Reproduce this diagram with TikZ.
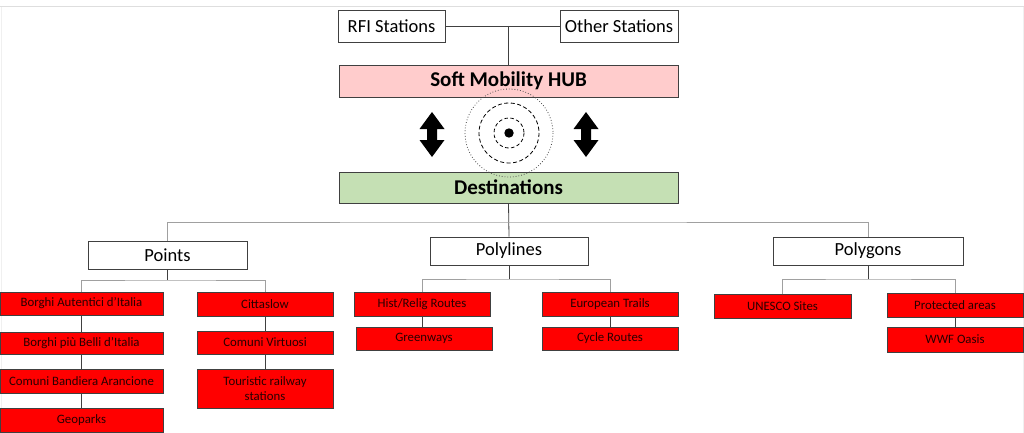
\documentclass[tikz,border=0pt]{standalone}
\usepackage{fontspec}
\setmainfont{Carlito}
\definecolor{hubpink}{RGB}{255,204,204}
\definecolor{destgreen}{RGB}{197,224,180}
\definecolor{boxred}{RGB}{255,0,0}
\definecolor{edge}{RGB}{64,64,64}
\definecolor{redtext}{RGB}{40,0,0}
\definecolor{barline}{RGB}{160,160,160}
\begin{document}
\begin{tikzpicture}[x=1pt,y=-1pt,
  wbox/.style={draw=edge, line width=0.8pt, fill=white, inner sep=0pt, font=\fontsize{18.5}{21}\selectfont},
  mainbox/.style={draw=edge, line width=0.8pt, inner sep=0pt, font=\fontsize{21}{24}\selectfont\bfseries},
  redbox/.style={draw=edge, line width=0.8pt, fill=boxred, inner sep=0pt, text=redtext, align=center, font=\fontsize{12.8}{15.5}\selectfont},
  link/.style={draw=edge, line width=0.8pt},
  barlink/.style={draw=barline, line width=0.9pt},
  bigarrow/.style={fill=black}
]
\useasboundingbox (0,0) rectangle (1024,433);
\fill[white] (0,0) rectangle (1024,433);
% faint screenshot frame
\draw[black!13, line width=1.6pt] (0,6.5) -- (1024,6.5);
\draw[black!6, line width=0.8pt] (1,7) -- (1,433);
\draw[black!6, line width=0.8pt] (1023,7) -- (1023,433);

% top
\node[wbox, minimum width=107pt, minimum height=32pt] (rfi) at (391.5,26) {RFI Stations};
\node[wbox, minimum width=118pt, minimum height=32pt] (other) at (619,26) {Other Stations};
\node[mainbox, fill=hubpink, minimum width=339pt, minimum height=32pt] (hub) at (508.5,81) {Soft Mobility HUB};
\node[mainbox, fill=destgreen, minimum width=339pt, minimum height=31pt] (dest) at (508.5,187.5) {Destinations};
\coordinate (j0) at (hub.north |- rfi.east);
\draw[link] (rfi.east) -- (other.west);
\draw[link] (j0) -- (hub.north);

% hub symbol
\coordinate (c) at (509,133);
\draw[black!70, dotted, line width=0.8pt] (c) circle (44);
\draw[black, dash pattern=on 4pt off 2.5pt, line width=0.8pt] (c) circle (30);
\draw[black, dash pattern=on 3.5pt off 2.5pt, line width=0.8pt] (c) circle (15);
\fill[black] (c) circle (4.7);

% double arrows
\foreach \ax in {432,586}{
  \fill[bigarrow] (\ax,112) -- (\ax+12.5,129) -- (\ax+5,129) -- (\ax+5,140) -- (\ax+12.5,140)
    -- (\ax,157) -- (\ax-12.5,140) -- (\ax-5,140) -- (\ax-5,129) -- (\ax-12.5,129) -- cycle;
}

% second level
\node[wbox, minimum width=159pt, minimum height=28pt] (points) at (167.5,255) {Points};
\node[wbox, minimum width=158pt, minimum height=28pt] (polylines) at (509,251) {Polylines};
\node[wbox, minimum width=190pt, minimum height=28pt] (polygons) at (868,251) {Polygons};
\coordinate (j1) at (509,222);
\draw[link] (dest.south) -- (polylines.north);
\draw[barlink] (points.north) |- (j1) -| (polygons.north);

% Points children
\node[redbox, minimum width=163pt, minimum height=23pt] (ba) at (81.5,303.5) {Borghi Autentici d’Italia};
\node[redbox, minimum width=163pt, minimum height=22pt] (bb) at (81.5,343) {Borghi più Belli d’Italia};
\node[redbox, minimum width=163pt, minimum height=24pt] (cb) at (81.5,381) {Comuni Bandiera Arancione};
\node[redbox, minimum width=163pt, minimum height=24pt] (geo) at (81.5,420) {Geoparks};
\node[redbox, minimum width=136pt, minimum height=24pt] (ct) at (265,304) {Cittaslow};
\node[redbox, minimum width=136pt, minimum height=23pt] (cv) at (265,342.5) {Comuni Virtuosi};
\node[redbox, minimum width=136pt, minimum height=39pt] (tr) at (265,388.5) {Touristic railway\\stations};
\coordinate (j2) at (167.5,280);
\draw[link] (points.south) -- (j2);
\draw[barlink] (ba.north) |- (j2) -| (ct.north);
\draw[link] (ba.south) -- (bb.north);
\draw[link] (bb.south) -- (cb.north);
\draw[link] (cb.south) -- (geo.north);
\draw[link] (ct.south) -- (cv.north);
\draw[link] (cv.south) -- (tr.north);

% Polylines children
\node[redbox, minimum width=136pt, minimum height=24pt] (hist) at (422,304) {Hist/Relig Routes};
\node[redbox, minimum width=136pt, minimum height=23pt] (green) at (424,338.5) {Greenways};
\node[redbox, minimum width=136pt, minimum height=24pt] (eu) at (610,304) {European Trails};
\node[redbox, minimum width=136pt, minimum height=23pt] (cycle) at (610,338.5) {Cycle Routes};
\coordinate (j3) at (509,279);
\draw[link] (polylines.south) -- (j3);
\draw[barlink] (hist.north) |- (j3) -| (eu.north);
\draw[link] (hist.south) -- (hist.south |- green.north);
\draw[link] (eu.south) -- (cycle.north);

% Polygons children
\node[redbox, minimum width=137pt, minimum height=24pt] (unesco) at (782.5,306) {UNESCO Sites};
\node[redbox, minimum width=136pt, minimum height=24pt] (prot) at (955,305) {Protected areas};
\node[redbox, minimum width=136pt, minimum height=25pt] (wwf) at (955,339.5) {WWF Oasis};
\coordinate (j4) at (868,279);
\draw[link] (polygons.south) -- (j4);
\draw[barlink] (unesco.north) |- (j4) -| (prot.north);
\draw[link] (prot.south) -- (wwf.north);
\end{tikzpicture}
\end{document}
